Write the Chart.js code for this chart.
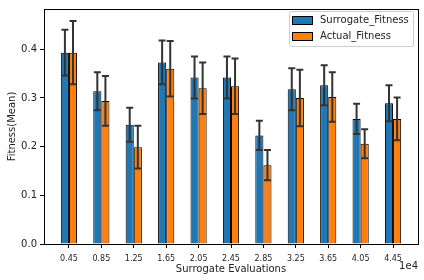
<!DOCTYPE html>
<html>
<head>
<meta charset="utf-8">
<script src="https://cdn.jsdelivr.net/npm/chart.js@4.4.0/dist/chart.umd.min.js"></script>
<style>
  html, body { margin: 0; padding: 0; background: #fff; }
</style>
</head>
<body>
<canvas id="grafica" width="424" height="280"></canvas>
<script>
// Datos
const evaluaciones = ['0.45', '0.85', '1.25', '1.65', '2.05', '2.45', '2.85', '3.25', '3.65', '4.05', '4.45'];
const surrogateMedia = [0.393, 0.314, 0.245, 0.373, 0.342, 0.342, 0.223, 0.318, 0.326, 0.257, 0.289];
const surrogateStd   = [0.047, 0.039, 0.035, 0.045, 0.043, 0.043, 0.030, 0.043, 0.041, 0.031, 0.037];
const actualMedia    = [0.393, 0.294, 0.199, 0.360, 0.320, 0.324, 0.162, 0.300, 0.302, 0.206, 0.257];
const actualStd      = [0.065, 0.051, 0.044, 0.057, 0.053, 0.057, 0.031, 0.058, 0.051, 0.030, 0.044];
const yTicks = [0, 0.1, 0.2, 0.3, 0.4];

const fuente = '"DejaVu Sans", sans-serif';

// Barras de error, marco y leyenda dibujados a mano
const extras = {
    id: 'extras',
    afterDatasetsDraw(chart) {
        const ctx = chart.ctx;
        const y = chart.scales.y;
        const stds = [surrogateStd, actualStd];
        const medias = [surrogateMedia, actualMedia];
        ctx.save();
        ctx.strokeStyle = '#333';
        ctx.lineWidth = 2;
        chart.data.datasets.forEach((ds, d) => {
            chart.getDatasetMeta(d).data.forEach((bar, i) => {
                const top = y.getPixelForValue(medias[d][i] + stds[d][i]);
                const bot = y.getPixelForValue(medias[d][i] - stds[d][i]);
                ctx.beginPath();
                ctx.moveTo(bar.x, top); ctx.lineTo(bar.x, bot);
                ctx.moveTo(bar.x - 3.5, top); ctx.lineTo(bar.x + 3.5, top);
                ctx.moveTo(bar.x - 3.5, bot); ctx.lineTo(bar.x + 3.5, bot);
                ctx.stroke();
            });
        });
        ctx.restore();
    },
    afterDraw(chart) {
        const ctx = chart.ctx;
        const a = chart.chartArea;
        ctx.save();
        ctx.strokeStyle = '#000';
        ctx.lineWidth = 1;
        ctx.strokeRect(Math.round(a.left) + 0.5, Math.round(a.top) + 0.5,
                       Math.round(a.right - a.left), Math.round(a.bottom - a.top));

        // texto del exponente
        ctx.fillStyle = '#222';
        ctx.font = '10px ' + fuente;
        ctx.textAlign = 'right';
        ctx.textBaseline = 'middle';
        ctx.fillText('1e4', a.right, 266);

        // leyenda
        const lx = 289, ly = 11, lw = 124, lh = 35;
        ctx.fillStyle = 'rgba(255,255,255,0.8)';
        ctx.strokeStyle = '#ccc';
        ctx.beginPath();
        ctx.roundRect(lx + 0.5, ly + 0.5, lw, lh, 2);
        ctx.fill();
        ctx.stroke();
        chart.data.datasets.forEach((ds, d) => {
            const py = 16 + d * 16;
            ctx.fillStyle = ds.backgroundColor;
            ctx.fillRect(292, py, 20, 8);
            ctx.strokeStyle = '#000';
            ctx.strokeRect(292.5, py + 0.5, 20, 8);
            ctx.fillStyle = '#222';
            ctx.textAlign = 'left';
            ctx.fillText(ds.label, 320, py + 4.5);
        });
        ctx.restore();
    }
};

new Chart(document.getElementById('grafica'), {
    type: 'bar',
    data: {
        datasets: [{
            label: 'Surrogate_Fitness',
            data: surrogateMedia.map((v, i) => ({ x: i, y: v })),
            backgroundColor: '#1f77b4',
            borderColor: '#000',
            borderWidth: 1
        }, {
            label: 'Actual_Fitness',
            data: actualMedia.map((v, i) => ({ x: i, y: v })),
            backgroundColor: '#ff7f0e',
            borderColor: '#000',
            borderWidth: 1
        }]
    },
    options: {
        responsive: false,
        animation: false,
        categoryPercentage: 0.5,
        barPercentage: 1,
        layout: { padding: { top: 6, right: 6, left: 0, bottom: 0 } },
        plugins: { legend: { display: false }, tooltip: { enabled: false } },
        scales: {
            x: {
                type: 'linear',
                offset: false,
                min: -0.77,
                max: 10.77,
                afterBuildTicks: s => { s.ticks = evaluaciones.map((c, i) => ({ value: i })); },
                afterFit: s => { s.height = 36; },
                grid: { offset: false, drawOnChartArea: false, tickLength: 4, color: '#000' },
                border: { display: false },
                ticks: {
                    autoSkip: false,
                    maxRotation: 0,
                    padding: 6,
                    color: '#222',
                    font: { family: fuente, size: 8 },
                    callback: v => evaluaciones[v]
                },
                title: {
                    display: true,
                    text: 'Surrogate Evaluations',
                    color: '#222',
                    font: { family: fuente, size: 10 },
                    padding: { top: 0, bottom: 5 }
                }
            },
            y: {
                min: 0,
                max: 0.4828,
                afterBuildTicks: s => { s.ticks = yTicks.map(v => ({ value: v })); },
                afterFit: s => { s.width = 44; },
                grid: { drawOnChartArea: false, tickLength: 4, color: '#000' },
                border: { display: false },
                ticks: {
                    padding: 3,
                    color: '#222',
                    font: { family: fuente, size: 10 },
                    callback: v => v.toFixed(1)
                },
                title: {
                    display: true,
                    text: 'Fitness(Mean)',
                    color: '#222',
                    font: { family: fuente, size: 10 },
                    padding: { top: 6, bottom: 0 }
                }
            }
        }
    },
    plugins: [extras]
});
</script>
</body>
</html>
